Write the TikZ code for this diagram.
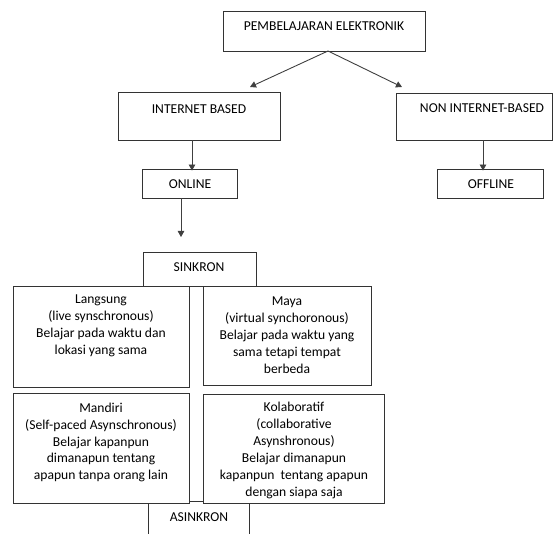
\documentclass[tikz,border=0pt]{standalone}
\usepackage{fontspec}
\setmainfont{Carlito}
\usetikzlibrary{arrows.meta}
\begin{document}
\begin{tikzpicture}[x=1pt,y=-1pt,
  box/.style={draw=black!80, line width=0.9pt, fill=white, inner sep=0pt, minimum width=#1},
  txt/.style={inner sep=0pt, align=center, text=black, font=\fontsize{13.6}{16.9}\selectfont},
  arr/.style={draw=black!75, line width=0.9pt, -{Triangle[length=6pt,width=6.5pt]}}]
\clip (0,0) rectangle (555,534);
\fill[white] (0,0) rectangle (555,534);
% boxes
\node[box=202pt, minimum height=40pt] (pem) at (324,31) {};
\node[box=162pt, minimum height=48pt] (inet) at (199,116) {};
\node[box=156pt, minimum height=47pt] (non) at (474,116.5) {};
\node[box=95pt, minimum height=29pt] (online) at (189.5,183.5) {};
\node[box=106pt, minimum height=29pt] (offline) at (490,183.5) {};
\node[box=113pt, minimum height=34pt] (sinkron) at (199.5,269) {};
\node[box=101pt, minimum height=44pt] (asinkron) at (198.5,523) {};
\node[box=176pt, minimum height=101pt] (langsung) at (101,336.5) {};
\node[box=168pt, minimum height=99pt] (maya) at (287,335.5) {};
\node[box=176pt, minimum height=110pt] (mandiri) at (101,448) {};
\node[box=181pt, minimum height=109pt] (kolab) at (293.5,448.5) {};
% texts
\node[txt] (pemt) at (324,26) {PEMBELAJARAN ELEKTRONIK};
\node[txt] (inett) at (199,109) {INTERNET BASED};
\node[txt] (nont) at (482,108) {NON INTERNET-BASED};
\node[txt] (onlinet) at (190,184) {ONLINE};
\node[txt] (offlinet) at (491,184) {OFFLINE};
\node[txt] (sinkront) at (199,267) {SINKRON};
\node[txt] (asinkront) at (199,517) {ASINKRON};
\node[txt] (langsungt) at (101,326) {Langsung\\(live synschronous)\\Belajar pada waktu dan\\lokasi yang sama};
\node[txt] (mayat) at (287,335) {Maya\\(virtual synchoronous)\\Belajar pada waktu yang\\sama tetapi tempat\\berbeda};
\node[txt] (mandirit) at (101,442.5) {Mandiri\\(Self-paced Asynschronous)\\Belajar kapanpun\\dimanapun tentang\\apapun tanpa orang lain};
\node[txt] (kolabt) at (294,450.5) {Kolaboratif\\(collaborative\\Asynshronous)\\Belajar dimanapun\\kapanpun\ \ tentang apapun\\dengan siapa saja};
% connectors
\coordinate (pemb) at (328,51);
\coordinate (inetin) at (250,87);
\coordinate (nonin) at (402,87);
\coordinate (sinkin) at (181,237);
\draw[arr] (pemb) -- (inetin);
\draw[arr] (pemb) -- (nonin);
\draw[arr] (inet.south -| 192,0) -- ([yshift=-2pt]online.north -| 192,0);
\draw[arr] (non.south -| 483,0) -- ([yshift=-2pt]offline.north -| 483,0);
\draw[arr] (online.south -| 181,0) -- (sinkin);
\end{tikzpicture}
\end{document}
